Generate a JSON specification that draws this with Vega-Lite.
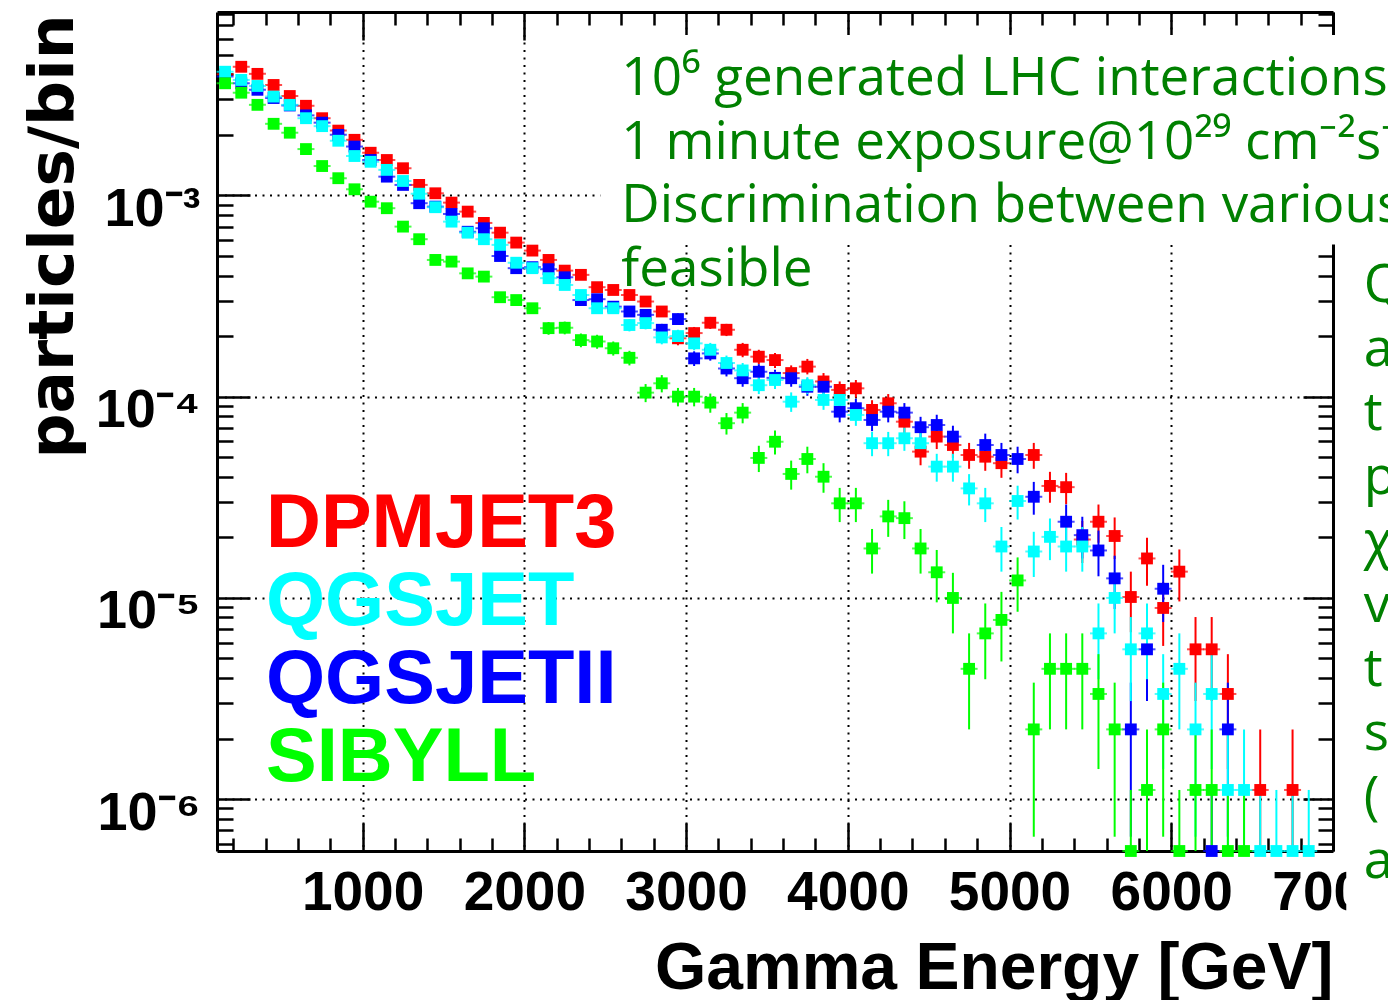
{
"$schema":"https://vega.github.io/schema/vega-lite/v6.json",
"width":1116,"height":839,
"autosize":{"type":"none"},
"padding":{"left":217,"top":12,"right":55,"bottom":149},
"background":"white",
"config":{
 "view":{"stroke":null},
 "axis":{"domainColor":"black","domainWidth":3,"tickColor":"black","tickWidth":2.5,"gridColor":"black","gridDash":[2,5.5],"gridWidth":2,"labelFont":"Liberation Sans","labelFontWeight":"bold","labelColor":"black","titleFont":"Liberation Sans","titleFontWeight":"bold","titleColor":"black","labelOverlap":false,"labelBound":false,"labelFlush":false}
},
"datasets":{"pts":[
{"m":"DPMJET3","e":150,"v":4.0e-3},
{"m":"DPMJET3","e":250,"v":4.36e-3},
{"m":"DPMJET3","e":350,"v":4.02e-3},
{"m":"DPMJET3","e":450,"v":3.54e-3},
{"m":"DPMJET3","e":550,"v":3.12e-3},
{"m":"DPMJET3","e":650,"v":2.79e-3},
{"m":"DPMJET3","e":750,"v":2.42e-3},
{"m":"DPMJET3","e":850,"v":2.1e-3},
{"m":"DPMJET3","e":950,"v":1.89e-3},
{"m":"DPMJET3","e":1050,"v":1.63e-3},
{"m":"DPMJET3","e":1150,"v":1.50e-3},
{"m":"DPMJET3","e":1250,"v":1.365e-3},
{"m":"DPMJET3","e":1350,"v":1.128e-3},
{"m":"DPMJET3","e":1450,"v":1.025e-3},
{"m":"DPMJET3","e":1550,"v":9.21e-4},
{"m":"DPMJET3","e":1650,"v":8.31e-4},
{"m":"DPMJET3","e":1750,"v":7.30e-4},
{"m":"DPMJET3","e":1850,"v":6.53e-4},
{"m":"DPMJET3","e":1950,"v":5.83e-4},
{"m":"DPMJET3","e":2050,"v":5.32e-4},
{"m":"DPMJET3","e":2150,"v":4.78e-4},
{"m":"DPMJET3","e":2250,"v":4.23e-4},
{"m":"DPMJET3","e":2350,"v":4.03e-4},
{"m":"DPMJET3","e":2450,"v":3.50e-4},
{"m":"DPMJET3","e":2550,"v":3.39e-4},
{"m":"DPMJET3","e":2650,"v":3.20e-4},
{"m":"DPMJET3","e":2750,"v":2.97e-4},
{"m":"DPMJET3","e":2850,"v":2.65e-4},
{"m":"DPMJET3","e":2950,"v":1.95e-4,"lo":1.80e-4,"hi":2.10e-4},
{"m":"DPMJET3","e":3050,"v":2.07e-4,"lo":1.92e-4,"hi":2.22e-4},
{"m":"DPMJET3","e":3150,"v":2.33e-4,"lo":2.17e-4,"hi":2.49e-4},
{"m":"DPMJET3","e":3250,"v":2.15e-4,"lo":2.00e-4,"hi":2.30e-4},
{"m":"DPMJET3","e":3350,"v":1.71e-4,"lo":1.57e-4,"hi":1.85e-4},
{"m":"DPMJET3","e":3450,"v":1.58e-4,"lo":1.45e-4,"hi":1.71e-4},
{"m":"DPMJET3","e":3550,"v":1.52e-4,"lo":1.39e-4,"hi":1.65e-4},
{"m":"DPMJET3","e":3650,"v":1.31e-4,"lo":1.19e-4,"hi":1.43e-4},
{"m":"DPMJET3","e":3750,"v":1.41e-4,"lo":1.29e-4,"hi":1.54e-4},
{"m":"DPMJET3","e":3850,"v":1.19e-4,"lo":1.08e-4,"hi":1.31e-4},
{"m":"DPMJET3","e":3950,"v":1.08e-4,"lo":9.7e-5,"hi":1.19e-4},
{"m":"DPMJET3","e":4050,"v":1.10e-4,"lo":9.9e-5,"hi":1.21e-4},
{"m":"DPMJET3","e":4150,"v":8.59e-5,"lo":7.6e-5,"hi":9.6e-5},
{"m":"DPMJET3","e":4250,"v":9.27e-5,"lo":8.3e-5,"hi":1.03e-4},
{"m":"DPMJET3","e":4350,"v":7.51e-5,"lo":6.6e-5,"hi":8.4e-5},
{"m":"DPMJET3","e":4450,"v":5.33e-5,"lo":4.56e-5,"hi":6.10e-5},
{"m":"DPMJET3","e":4550,"v":6.33e-5,"lo":5.49e-5,"hi":7.17e-5},
{"m":"DPMJET3","e":4650,"v":5.75e-5,"lo":4.95e-5,"hi":6.55e-5},
{"m":"DPMJET3","e":4750,"v":5.13e-5,"lo":4.38e-5,"hi":5.89e-5},
{"m":"DPMJET3","e":4850,"v":5.03e-5,"lo":4.28e-5,"hi":5.78e-5},
{"m":"DPMJET3","e":4950,"v":4.67e-5,"lo":3.95e-5,"hi":5.39e-5},
{"m":"DPMJET3","e":5150,"v":5.13e-5,"lo":4.38e-5,"hi":5.89e-5},
{"m":"DPMJET3","e":5250,"v":3.60e-5,"lo":2.97e-5,"hi":4.23e-5},
{"m":"DPMJET3","e":5350,"v":3.55e-5,"lo":2.92e-5,"hi":4.18e-5},
{"m":"DPMJET3","e":5450,"v":1.95e-5,"lo":1.49e-5,"hi":2.41e-5},
{"m":"DPMJET3","e":5550,"v":2.39e-5,"lo":1.88e-5,"hi":2.91e-5},
{"m":"DPMJET3","e":5650,"v":2.03e-5,"lo":1.56e-5,"hi":2.51e-5},
{"m":"DPMJET3","e":5750,"v":1.01e-5,"lo":6.75e-6,"hi":1.35e-5},
{"m":"DPMJET3","e":5850,"v":1.57e-5,"lo":1.15e-5,"hi":1.99e-5},
{"m":"DPMJET3","e":5950,"v":8.91e-6,"lo":5.77e-6,"hi":1.2e-5},
{"m":"DPMJET3","e":6050,"v":1.35e-5,"lo":9.6e-6,"hi":1.74e-5},
{"m":"DPMJET3","e":6150,"v":5.55e-6,"lo":3.07e-6,"hi":8.03e-6},
{"m":"DPMJET3","e":6250,"v":5.55e-6,"lo":3.07e-6,"hi":8.03e-6},
{"m":"DPMJET3","e":6350,"v":3.33e-6,"lo":1.41e-6,"hi":5.25e-6},
{"m":"DPMJET3","e":6550,"v":1.11e-6,"lo":1e-7,"hi":2.22e-6},
{"m":"DPMJET3","e":6750,"v":1.11e-6,"lo":1e-7,"hi":2.22e-6},
{"m":"QGSJETII","e":150,"v":3.9e-3},
{"m":"QGSJETII","e":250,"v":3.61e-3},
{"m":"QGSJETII","e":350,"v":3.35e-3},
{"m":"QGSJETII","e":450,"v":3.05e-3},
{"m":"QGSJETII","e":550,"v":2.8e-3},
{"m":"QGSJETII","e":650,"v":2.5e-3},
{"m":"QGSJETII","e":750,"v":2.3e-3},
{"m":"QGSJETII","e":850,"v":2.0e-3},
{"m":"QGSJETII","e":950,"v":1.75e-3},
{"m":"QGSJETII","e":1050,"v":1.5e-3},
{"m":"QGSJETII","e":1150,"v":1.24e-3},
{"m":"QGSJETII","e":1250,"v":1.128e-3},
{"m":"QGSJETII","e":1350,"v":9.15e-4},
{"m":"QGSJETII","e":1450,"v":8.8e-4},
{"m":"QGSJETII","e":1550,"v":8.09e-4},
{"m":"QGSJETII","e":1650,"v":6.6e-4},
{"m":"QGSJETII","e":1750,"v":6.87e-4},
{"m":"QGSJETII","e":1850,"v":5.00e-4},
{"m":"QGSJETII","e":1950,"v":4.35e-4},
{"m":"QGSJETII","e":2050,"v":4.4e-4},
{"m":"QGSJETII","e":2150,"v":4.30e-4},
{"m":"QGSJETII","e":2250,"v":3.92e-4},
{"m":"QGSJETII","e":2350,"v":3.02e-4},
{"m":"QGSJETII","e":2450,"v":3.05e-4},
{"m":"QGSJETII","e":2550,"v":2.8e-4},
{"m":"QGSJETII","e":2650,"v":2.65e-4},
{"m":"QGSJETII","e":2750,"v":2.55e-4},
{"m":"QGSJETII","e":2850,"v":2.15e-4,"lo":2.00e-4,"hi":2.30e-4},
{"m":"QGSJETII","e":2950,"v":2.43e-4,"lo":2.27e-4,"hi":2.59e-4},
{"m":"QGSJETII","e":3050,"v":1.55e-4,"lo":1.42e-4,"hi":1.68e-4},
{"m":"QGSJETII","e":3150,"v":1.64e-4,"lo":1.51e-4,"hi":1.78e-4},
{"m":"QGSJETII","e":3250,"v":1.38e-4,"lo":1.26e-4,"hi":1.50e-4},
{"m":"QGSJETII","e":3350,"v":1.235e-4,"lo":1.12e-4,"hi":1.35e-4},
{"m":"QGSJETII","e":3450,"v":1.33e-4,"lo":1.21e-4,"hi":1.45e-4},
{"m":"QGSJETII","e":3550,"v":1.24e-4,"lo":1.12e-4,"hi":1.36e-4},
{"m":"QGSJETII","e":3650,"v":1.235e-4,"lo":1.12e-4,"hi":1.35e-4},
{"m":"QGSJETII","e":3750,"v":1.12e-4,"lo":1.01e-4,"hi":1.23e-4},
{"m":"QGSJETII","e":3850,"v":1.12e-4,"lo":1.01e-4,"hi":1.23e-4},
{"m":"QGSJETII","e":3950,"v":8.42e-5,"lo":7.45e-5,"hi":9.39e-5},
{"m":"QGSJETII","e":4050,"v":8.76e-5,"lo":7.77e-5,"hi":9.75e-5},
{"m":"QGSJETII","e":4150,"v":7.66e-5,"lo":6.74e-5,"hi":8.58e-5},
{"m":"QGSJETII","e":4250,"v":8.42e-5,"lo":7.45e-5,"hi":9.39e-5},
{"m":"QGSJETII","e":4350,"v":8.33e-5,"lo":7.37e-5,"hi":9.29e-5},
{"m":"QGSJETII","e":4450,"v":7.05e-5,"lo":6.17e-5,"hi":7.94e-5},
{"m":"QGSJETII","e":4550,"v":7.23e-5,"lo":6.33e-5,"hi":8.13e-5},
{"m":"QGSJETII","e":4650,"v":6.33e-5,"lo":5.49e-5,"hi":7.17e-5},
{"m":"QGSJETII","e":4850,"v":5.75e-5,"lo":4.95e-5,"hi":6.55e-5},
{"m":"QGSJETII","e":4950,"v":5.13e-5,"lo":4.38e-5,"hi":5.89e-5},
{"m":"QGSJETII","e":5050,"v":4.90e-5,"lo":4.16e-5,"hi":5.64e-5},
{"m":"QGSJETII","e":5150,"v":3.18e-5,"lo":2.59e-5,"hi":3.77e-5},
{"m":"QGSJETII","e":5350,"v":2.39e-5,"lo":1.88e-5,"hi":2.91e-5},
{"m":"QGSJETII","e":5450,"v":2.05e-5,"lo":1.57e-5,"hi":2.53e-5},
{"m":"QGSJETII","e":5550,"v":1.72e-5,"lo":1.28e-5,"hi":2.16e-5},
{"m":"QGSJETII","e":5650,"v":1.25e-5,"lo":8.8e-6,"hi":1.62e-5},
{"m":"QGSJETII","e":5750,"v":2.22e-6,"lo":6.5e-7,"hi":3.79e-6},
{"m":"QGSJETII","e":5850,"v":5.55e-6,"lo":3.07e-6,"hi":8.03e-6},
{"m":"QGSJETII","e":5950,"v":1.11e-5,"lo":7.59e-6,"hi":1.46e-5},
{"m":"QGSJETII","e":6250,"v":5.52e-7,"lo":1e-7,"hi":1.11e-6},
{"m":"QGSJETII","e":6350,"v":2.22e-6,"lo":6.5e-7,"hi":3.79e-6},
{"m":"QGSJET","e":150,"v":4.12e-3},
{"m":"QGSJET","e":250,"v":3.75e-3},
{"m":"QGSJET","e":350,"v":3.50e-3},
{"m":"QGSJET","e":450,"v":3.10e-3},
{"m":"QGSJET","e":550,"v":2.82e-3},
{"m":"QGSJET","e":650,"v":2.42e-3},
{"m":"QGSJET","e":750,"v":2.21e-3},
{"m":"QGSJET","e":850,"v":1.87e-3},
{"m":"QGSJET","e":950,"v":1.57e-3},
{"m":"QGSJET","e":1050,"v":1.47e-3},
{"m":"QGSJET","e":1150,"v":1.34e-3},
{"m":"QGSJET","e":1250,"v":1.18e-3},
{"m":"QGSJET","e":1350,"v":1.02e-3},
{"m":"QGSJET","e":1450,"v":8.74e-4},
{"m":"QGSJET","e":1550,"v":7.41e-4},
{"m":"QGSJET","e":1650,"v":6.53e-4},
{"m":"QGSJET","e":1750,"v":6.06e-4},
{"m":"QGSJET","e":1850,"v":5.68e-4},
{"m":"QGSJET","e":1950,"v":4.63e-4},
{"m":"QGSJET","e":2050,"v":4.35e-4},
{"m":"QGSJET","e":2150,"v":3.88e-4},
{"m":"QGSJET","e":2250,"v":3.59e-4},
{"m":"QGSJET","e":2350,"v":3.20e-4},
{"m":"QGSJET","e":2450,"v":2.75e-4},
{"m":"QGSJET","e":2550,"v":2.75e-4},
{"m":"QGSJET","e":2650,"v":2.27e-4,"lo":2.11e-4,"hi":2.43e-4},
{"m":"QGSJET","e":2750,"v":2.32e-4,"lo":2.16e-4,"hi":2.48e-4},
{"m":"QGSJET","e":2850,"v":1.97e-4,"lo":1.82e-4,"hi":2.12e-4},
{"m":"QGSJET","e":2950,"v":2.00e-4,"lo":1.85e-4,"hi":2.15e-4},
{"m":"QGSJET","e":3050,"v":1.84e-4,"lo":1.70e-4,"hi":1.98e-4},
{"m":"QGSJET","e":3150,"v":1.71e-4,"lo":1.57e-4,"hi":1.85e-4},
{"m":"QGSJET","e":3250,"v":1.47e-4,"lo":1.34e-4,"hi":1.60e-4},
{"m":"QGSJET","e":3350,"v":1.35e-4,"lo":1.23e-4,"hi":1.47e-4},
{"m":"QGSJET","e":3450,"v":1.14e-4,"lo":1.03e-4,"hi":1.25e-4},
{"m":"QGSJET","e":3550,"v":1.21e-4,"lo":1.09e-4,"hi":1.33e-4},
{"m":"QGSJET","e":3650,"v":9.44e-5,"lo":8.4e-5,"hi":1.05e-4},
{"m":"QGSJET","e":3750,"v":1.14e-4,"lo":1.03e-4,"hi":1.25e-4},
{"m":"QGSJET","e":3850,"v":9.63e-5,"lo":8.6e-5,"hi":1.07e-4},
{"m":"QGSJET","e":3950,"v":9.63e-5,"lo":8.6e-5,"hi":1.07e-4},
{"m":"QGSJET","e":4050,"v":8.11e-5,"lo":7.16e-5,"hi":9.06e-5},
{"m":"QGSJET","e":4150,"v":5.87e-5,"lo":5.06e-5,"hi":6.68e-5},
{"m":"QGSJET","e":4250,"v":5.87e-5,"lo":5.06e-5,"hi":6.68e-5},
{"m":"QGSJET","e":4350,"v":6.21e-5,"lo":5.38e-5,"hi":7.04e-5},
{"m":"QGSJET","e":4450,"v":5.87e-5,"lo":5.06e-5,"hi":6.68e-5},
{"m":"QGSJET","e":4550,"v":4.49e-5,"lo":3.78e-5,"hi":5.20e-5},
{"m":"QGSJET","e":4650,"v":4.49e-5,"lo":3.78e-5,"hi":5.20e-5},
{"m":"QGSJET","e":4750,"v":3.50e-5,"lo":2.88e-5,"hi":4.12e-5},
{"m":"QGSJET","e":4850,"v":2.95e-5,"lo":2.38e-5,"hi":3.52e-5},
{"m":"QGSJET","e":4950,"v":1.80e-5,"lo":1.35e-5,"hi":2.25e-5},
{"m":"QGSJET","e":5050,"v":3.03e-5,"lo":2.45e-5,"hi":3.61e-5},
{"m":"QGSJET","e":5150,"v":1.70e-5,"lo":1.27e-5,"hi":2.13e-5},
{"m":"QGSJET","e":5250,"v":2.01e-5,"lo":1.54e-5,"hi":2.48e-5},
{"m":"QGSJET","e":5350,"v":1.80e-5,"lo":1.35e-5,"hi":2.25e-5},
{"m":"QGSJET","e":5450,"v":1.80e-5,"lo":1.35e-5,"hi":2.25e-5},
{"m":"QGSJET","e":5550,"v":6.66e-6,"lo":3.94e-6,"hi":9.38e-6},
{"m":"QGSJET","e":5650,"v":9.99e-6,"lo":6.66e-6,"hi":1.332e-5},
{"m":"QGSJET","e":5750,"v":5.55e-6,"lo":3.07e-6,"hi":8.03e-6},
{"m":"QGSJET","e":5850,"v":6.66e-6,"lo":3.94e-6,"hi":9.38e-6},
{"m":"QGSJET","e":5950,"v":3.33e-6,"lo":1.41e-6,"hi":5.25e-6},
{"m":"QGSJET","e":6050,"v":4.44e-6,"lo":2.22e-6,"hi":6.66e-6},
{"m":"QGSJET","e":6150,"v":2.22e-6,"lo":6.5e-7,"hi":3.79e-6},
{"m":"QGSJET","e":6250,"v":3.33e-6,"lo":1.41e-6,"hi":5.25e-6},
{"m":"QGSJET","e":6350,"v":1.11e-6,"lo":1e-7,"hi":2.22e-6},
{"m":"QGSJET","e":6450,"v":1.11e-6,"lo":1e-7,"hi":2.22e-6},
{"m":"QGSJET","e":6550,"v":5.52e-7,"lo":1e-7,"hi":1.11e-6},
{"m":"QGSJET","e":6650,"v":5.52e-7,"lo":1e-7,"hi":1.11e-6},
{"m":"QGSJET","e":6750,"v":5.52e-7,"lo":1e-7,"hi":1.11e-6},
{"m":"QGSJET","e":6850,"v":5.52e-7,"lo":1e-7,"hi":1.11e-6},
{"m":"SIBYLL","e":150,"v":3.61e-3},
{"m":"SIBYLL","e":250,"v":3.24e-3},
{"m":"SIBYLL","e":350,"v":2.82e-3},
{"m":"SIBYLL","e":450,"v":2.27e-3},
{"m":"SIBYLL","e":550,"v":2.05e-3},
{"m":"SIBYLL","e":650,"v":1.70e-3},
{"m":"SIBYLL","e":750,"v":1.40e-3},
{"m":"SIBYLL","e":850,"v":1.218e-3},
{"m":"SIBYLL","e":950,"v":1.073e-3},
{"m":"SIBYLL","e":1050,"v":9.31e-4},
{"m":"SIBYLL","e":1150,"v":8.64e-4},
{"m":"SIBYLL","e":1250,"v":7.0e-4},
{"m":"SIBYLL","e":1350,"v":6.06e-4},
{"m":"SIBYLL","e":1450,"v":4.78e-4},
{"m":"SIBYLL","e":1550,"v":4.69e-4},
{"m":"SIBYLL","e":1650,"v":4.10e-4},
{"m":"SIBYLL","e":1750,"v":3.95e-4},
{"m":"SIBYLL","e":1850,"v":3.12e-4},
{"m":"SIBYLL","e":1950,"v":3.02e-4},
{"m":"SIBYLL","e":2050,"v":2.75e-4},
{"m":"SIBYLL","e":2150,"v":2.19e-4,"lo":2.03e-4,"hi":2.35e-4},
{"m":"SIBYLL","e":2250,"v":2.20e-4,"lo":2.04e-4,"hi":2.36e-4},
{"m":"SIBYLL","e":2350,"v":1.91e-4,"lo":1.76e-4,"hi":2.06e-4},
{"m":"SIBYLL","e":2450,"v":1.88e-4,"lo":1.73e-4,"hi":2.03e-4},
{"m":"SIBYLL","e":2550,"v":1.74e-4,"lo":1.60e-4,"hi":1.88e-4},
{"m":"SIBYLL","e":2650,"v":1.56e-4,"lo":1.43e-4,"hi":1.69e-4},
{"m":"SIBYLL","e":2750,"v":1.047e-4,"lo":9.39e-5,"hi":1.155e-4},
{"m":"SIBYLL","e":2850,"v":1.165e-4,"lo":1.05e-4,"hi":1.28e-4},
{"m":"SIBYLL","e":2950,"v":1.0e-4,"lo":8.95e-5,"hi":1.105e-4},
{"m":"SIBYLL","e":3050,"v":1.0e-4,"lo":8.95e-5,"hi":1.105e-4},
{"m":"SIBYLL","e":3150,"v":9.34e-5,"lo":8.32e-5,"hi":1.036e-4},
{"m":"SIBYLL","e":3250,"v":7.38e-5,"lo":6.48e-5,"hi":8.29e-5},
{"m":"SIBYLL","e":3350,"v":8.33e-5,"lo":7.37e-5,"hi":9.29e-5},
{"m":"SIBYLL","e":3450,"v":4.96e-5,"lo":4.22e-5,"hi":5.70e-5},
{"m":"SIBYLL","e":3550,"v":5.97e-5,"lo":5.16e-5,"hi":6.78e-5},
{"m":"SIBYLL","e":3650,"v":4.13e-5,"lo":3.45e-5,"hi":4.81e-5},
{"m":"SIBYLL","e":3750,"v":4.90e-5,"lo":4.16e-5,"hi":5.64e-5},
{"m":"SIBYLL","e":3850,"v":4.00e-5,"lo":3.33e-5,"hi":4.67e-5},
{"m":"SIBYLL","e":3950,"v":2.95e-5,"lo":2.38e-5,"hi":3.52e-5},
{"m":"SIBYLL","e":4050,"v":2.95e-5,"lo":2.38e-5,"hi":3.52e-5},
{"m":"SIBYLL","e":4150,"v":1.76e-5,"lo":1.32e-5,"hi":2.20e-5},
{"m":"SIBYLL","e":4250,"v":2.54e-5,"lo":2.01e-5,"hi":3.07e-5},
{"m":"SIBYLL","e":4350,"v":2.49e-5,"lo":1.96e-5,"hi":3.02e-5},
{"m":"SIBYLL","e":4450,"v":1.76e-5,"lo":1.32e-5,"hi":2.20e-5},
{"m":"SIBYLL","e":4550,"v":1.34e-5,"lo":9.5e-6,"hi":1.73e-5},
{"m":"SIBYLL","e":4650,"v":9.99e-6,"lo":6.66e-6,"hi":1.332e-5},
{"m":"SIBYLL","e":4750,"v":4.44e-6,"lo":2.22e-6,"hi":6.66e-6},
{"m":"SIBYLL","e":4850,"v":6.66e-6,"lo":3.94e-6,"hi":9.38e-6},
{"m":"SIBYLL","e":4950,"v":7.77e-6,"lo":4.83e-6,"hi":1.071e-5},
{"m":"SIBYLL","e":5050,"v":1.221e-5,"lo":8.53e-6,"hi":1.589e-5},
{"m":"SIBYLL","e":5150,"v":2.22e-6,"lo":6.5e-7,"hi":3.79e-6},
{"m":"SIBYLL","e":5250,"v":4.44e-6,"lo":2.22e-6,"hi":6.66e-6},
{"m":"SIBYLL","e":5350,"v":4.44e-6,"lo":2.22e-6,"hi":6.66e-6},
{"m":"SIBYLL","e":5450,"v":4.44e-6,"lo":2.22e-6,"hi":6.66e-6},
{"m":"SIBYLL","e":5550,"v":3.33e-6,"lo":1.41e-6,"hi":5.25e-6},
{"m":"SIBYLL","e":5650,"v":2.22e-6,"lo":6.5e-7,"hi":3.79e-6},
{"m":"SIBYLL","e":5750,"v":5.52e-7,"lo":1e-7,"hi":1.11e-6},
{"m":"SIBYLL","e":5850,"v":1.11e-6,"lo":1e-7,"hi":2.22e-6},
{"m":"SIBYLL","e":5950,"v":2.22e-6,"lo":6.5e-7,"hi":3.79e-6},
{"m":"SIBYLL","e":6050,"v":5.52e-7,"lo":1e-7,"hi":1.11e-6},
{"m":"SIBYLL","e":6150,"v":1.11e-6,"lo":1e-7,"hi":2.22e-6},
{"m":"SIBYLL","e":6250,"v":1.11e-6,"lo":1e-7,"hi":2.22e-6},
{"m":"SIBYLL","e":6350,"v":5.52e-7,"lo":1e-7,"hi":1.11e-6},
{"m":"SIBYLL","e":6450,"v":5.52e-7,"lo":1e-7,"hi":1.11e-6}
]},
"data":{"name":"pts"},
"resolve":{"axis":{"x":"independent","y":"independent"}},
"layer":[
{"data":{"values":[{}]},
 "mark":{"type":"rect","color":"white"},
 "encoding":{"x":{"datum":2470,"type":"quantitative","axis":null},"x2":{"datum":7600},"y":{"datum":0.00628,"type":"quantitative","axis":null},"y2":{"datum":0.00057}}},
{"data":{"values":[{}]},
 "mark":{"type":"rect","color":"white"},
 "encoding":{"x":{"datum":7082,"type":"quantitative","axis":null},"x2":{"datum":7600},"y":{"datum":0.00057,"type":"quantitative","axis":null},"y2":{"datum":1e-7}}},
{"transform":[{"filter":"isValid(datum.lo)"}],
 "mark":{"type":"rule","strokeWidth":2,"clip":true},
 "encoding":{
  "x":{"field":"e","type":"quantitative","scale":{"domain":[100,7000],"nice":false,"zero":false},
   "axis":{"orient":"bottom","values":[200,400,600,800,1000,1200,1400,1600,1800,2000,2200,2400,2600,2800,3000,3200,3400,3600,3800,4000,4200,4400,4600,4800,5000,5200,5400,5600,5800,6000,6200,6400,6600,6800,7000],
    "labelExpr":"datum.value % 1000 === 0 ? '' + datum.value : ''",
    "labelFontSize":55,"labelPadding":43,"labelAlign":"center","labelBaseline":"top",
    "tickSize":{"condition":{"test":"datum.value % 1000 === 0","value":-28},"value":-13},
    "grid":true,"gridOpacity":{"condition":{"test":"datum.value % 1000 === 0 && datum.value < 7000","value":1},"value":0},
    "title":"Gamma Energy [GeV]","titleFontSize":66,"titleX":1116,"titleY":137,"titleAlign":"right","titleBaseline":"alphabetic","titleAnchor":"end"}},
  "y":{"field":"lo","type":"quantitative","scale":{"type":"log","domain":[5.52e-7,8.16e-3],"nice":false,"zero":false},
   "axis":{"orient":"left","values":[6e-7,7e-7,8e-7,9e-7,1e-6,2e-6,3e-6,4e-6,5e-6,6e-6,7e-6,8e-6,9e-6,1e-5,2e-5,3e-5,4e-5,5e-5,6e-5,7e-5,8e-5,9e-5,1e-4,2e-4,3e-4,4e-4,5e-4,6e-4,7e-4,8e-4,9e-4,1e-3,2e-3,3e-3,4e-3,5e-3,6e-3,7e-3,8e-3],
    "labelExpr":"abs(log(datum.value)/LN10 - round(log(datum.value)/LN10)) < 0.001 ? '10⁻' + ['⁰','¹','²','³','⁴','⁵','⁶','⁷'][-round(log(datum.value)/LN10)] : ''",
    "labelFontSize":54,"labelPadding":50,"labelOffset":14,"labelAlign":"right","labelBaseline":"middle",
    "tickSize":{"condition":{"test":"abs(log(datum.value)/LN10 - round(log(datum.value)/LN10)) < 0.001","value":-33},"value":-16},
    "grid":true,"gridOpacity":{"condition":{"test":"abs(log(datum.value)/LN10 - round(log(datum.value)/LN10)) < 0.001","value":1},"value":0},
    "title":"particles/bin","titleFont":"DejaVu Sans","titleFontSize":63,"titleAngle":270,"titleX":-145,"titleY":446,"titleAlign":"left","titleBaseline":"alphabetic"}},
  "y2":{"field":"hi"},
  "color":{"field":"m","type":"nominal","scale":{"domain":["DPMJET3","QGSJET","QGSJETII","SIBYLL"],"range":["#ff0000","#00ffff","#0000ff","#00ff00"]}}
 }},
{"mark":{"type":"tick","orient":"horizontal","size":17,"thickness":2},
 "encoding":{
  "x":{"field":"e","type":"quantitative","axis":null},
  "y":{"field":"v","type":"quantitative","axis":null},
  "color":{"field":"m","type":"nominal"}
 }},
{"mark":{"type":"point","shape":"square","filled":true,"size":140,"opacity":1},
 "encoding":{
  "x":{"field":"e","type":"quantitative",
   "axis":{"orient":"top","values":[200,400,600,800,1000,1200,1400,1600,1800,2000,2200,2400,2600,2800,3000,3200,3400,3600,3800,4000,4200,4400,4600,4800,5000,5200,5400,5600,5800,6000,6200,6400,6600,6800,7000],
    "labels":false,"grid":false,"title":null,
    "tickSize":{"condition":{"test":"datum.value % 1000 === 0","value":-28},"value":-13}}},
  "y":{"field":"v","type":"quantitative",
   "axis":{"orient":"right","values":[6e-7,7e-7,8e-7,9e-7,1e-6,2e-6,3e-6,4e-6,5e-6,6e-6,7e-6,8e-6,9e-6,1e-5,2e-5,3e-5,4e-5,5e-5,6e-5,7e-5,8e-5,9e-5,1e-4,2e-4,3e-4,4e-4,5e-4,6e-4,7e-4,8e-4,9e-4,1e-3,2e-3,3e-3,4e-3,5e-3,6e-3,7e-3,8e-3],
    "labels":false,"grid":false,"title":null,
    "tickSize":{"condition":{"test":"abs(log(datum.value)/LN10 - round(log(datum.value)/LN10)) < 0.001","value":-30},"value":-15}}},
  "color":{"field":"m","type":"nominal",
   "legend":{"orient":"none","legendX":-27,"legendY":474,"title":null,"padding":0,"symbolSize":0,"symbolOpacity":0,"symbolStrokeWidth":0,"labelOffset":0,"labelFontSize":76,"labelFont":"Liberation Sans","labelFontWeight":"bold","labelLimit":1000,"rowPadding":2,"labelColor":{"expr":"scale('color', datum.value)"}}}
 }},
{"data":{"values":[{}]},
 "mark":{"type":"text","align":"left","baseline":"alphabetic","font":"Open Sans","fontSize":53,"lineHeight":63.8,"color":"#008000"},
 "encoding":{"x":{"datum":2600,"type":"quantitative","axis":null},"y":{"datum":0.00316,"type":"quantitative","axis":null},
  "text":{"value":["10⁶ generated LHC interactions","1 minute exposure@10²⁹ cm⁻²s⁻¹","Discrimination between various","feasible"]}}},
{"data":{"values":[{}]},
 "mark":{"type":"text","align":"left","baseline":"alphabetic","font":"Open Sans","fontSize":53,"lineHeight":64,"color":"#008000"},
 "encoding":{"x":{"datum":7190,"type":"quantitative","axis":null},"y":{"datum":0.0002956,"type":"quantitative","axis":null},
  "text":{"value":["Q","a","t","p","χ","v","t","s","(","a"]}}}
]
}
